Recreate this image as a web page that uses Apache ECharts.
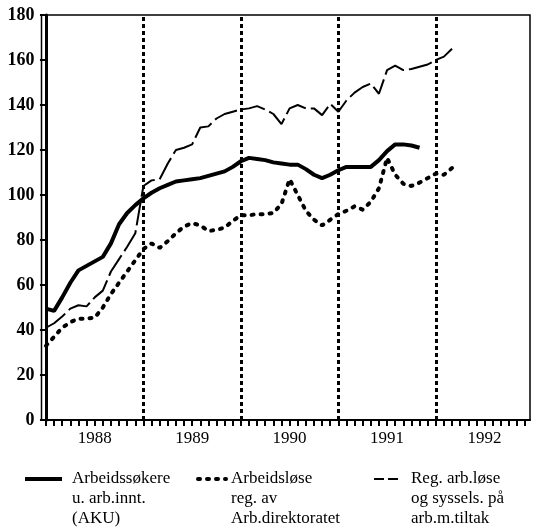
<!DOCTYPE html>
<html>
<head>
<meta charset="utf-8">
<script src="https://cdn.jsdelivr.net/npm/echarts@6/dist/echarts.min.js"></script>
<style>
  html, body { margin: 0; padding: 0; background: #fff; }
  #chart { width: 546px; height: 531px; }
</style>
</head>
<body>
<div id="chart"></div>
<script>
// x = måneder fra januar 1988 (0 = jan 1988)
const years = ['1988', '1989', '1990', '1991', '1992'];
const yearStarts = [0, 12, 24, 36, 48];

// Arbeidssøkere u. arb.innt. (AKU)
const akuValues = [49.5, 48.5, 54.5, 61, 66.5, 68.5, 70.5, 72.5, 78.5, 87, 92, 95.5,
    98.5, 101, 103, 104.5, 106, 106.5, 107, 107.5, 108.5, 109.5, 110.5, 112.5,
    115, 116.5, 116, 115.5, 114.5, 114, 113.5, 113.5, 111.5, 109, 107.5, 109,
    111, 112.5, 112.5, 112.5, 112.5, 115.5, 119.5, 122.5, 122.5, 122, 121];

// Arbeidsløse reg. av Arb.direktoratet
const regValues = [33, 37, 41, 43.5, 45, 45, 45.5, 50, 56, 61, 66, 71,
    76, 78.5, 76.5, 79.5, 83, 86, 87.5, 86.5, 84, 84.5, 85.5, 88.5,
    91, 91, 91.5, 91.5, 92, 96, 107, 100, 93, 89, 86.5, 89,
    91.5, 93, 95, 93.5, 97, 103, 116.5, 109, 105, 104, 105.5, 107.5,
    109.5, 109, 112];

// Reg. arb.løse og syssels. på arb.m.tiltak
const tiltakValues = [41, 43, 46, 49.5, 51, 50.5, 54.5, 57.5, 66, 71.5, 77, 83,
    104, 106.5, 107, 114, 120, 121, 122.5, 130, 130.5, 134, 136, 137,
    138, 138.5, 139.5, 138, 136, 131.5, 138.5, 140, 138.5, 138.5, 135.5, 140.5,
    137, 142, 145.5, 148, 149.5, 145, 155.5, 157.5, 155.5, 156, 157, 158,
    160, 161.5, 165];

const seriesNames = ['Arbeidssøkere', 'Arbeidsløse', 'Reg. arb.løse'];
const legendTexts = [
    'Arbeidssøkere\nu. arb.innt.\n(AKU)',
    'Arbeidsløse\nreg. av\nArb.direktoratet',
    'Reg. arb.løse\nog syssels. på\narb.m.tiltak'
];

function toPairs(values) {
    return values.map((v, i) => [i, v]);
}

let monthTicks = [];
for (let m = 0; m < 60; m++) monthTicks.push(m);

const serif = '"Liberation Serif", "DejaVu Serif", serif';

// én legend per serie, slik at teksten kan gå over tre linjer
function legendFor(i, left, itemWidth, padLeft, lineStyle) {
    return {
        data: [seriesNames[i]],
        left: left,
        top: 429,
        padding: 0,
        z: 1,
        itemWidth: itemWidth,
        itemHeight: 10,
        selectedMode: false,
        formatter: () => '\n\n' + legendTexts[i],
        itemStyle: { color: 'transparent', borderWidth: 0, opacity: 0 },
        lineStyle: lineStyle,
        textStyle: {
            fontFamily: serif,
            fontSize: 17,
            color: '#000',
            lineHeight: 20,
            padding: [0, 0, 0, padLeft]
        }
    };
}

const chart = echarts.init(document.getElementById('chart'), null, { renderer: 'canvas' });

const option = {
    backgroundColor: '#fff',
    animation: false,
    grid: {
        left: 41.5,
        right: 16,
        top: 15,
        bottom: 111,
        show: true,
        borderColor: '#000',
        borderWidth: 1.5,
        backgroundColor: 'transparent'
    },
    legend: [
        legendFor(0, 23, 37, 5, { color: '#000', width: 4, type: 'solid', opacity: 1 }),
        legendFor(1, 196, 28, 0, { color: '#000', width: 4, type: [2, 7], cap: 'round', opacity: 1 }),
        legendFor(2, 373, 27, 5, { color: '#000', width: 2, type: [10, 4, 10, 4, 2, 4], opacity: 1 })
    ],
    xAxis: {
        type: 'value',
        min: -0.55,
        max: 59.6,
        z: 5,
        splitLine: { show: false },
        axisLine: { show: true, lineStyle: { color: '#000', width: 2 } },
        axisTick: {
            show: true,
            customValues: monthTicks,
            inside: false,
            length: 6,
            lineStyle: { color: '#000', width: 2 }
        },
        axisLabel: {
            customValues: yearStarts.map(s => s + 6),
            formatter: v => years[Math.round((v - 6) / 12)],
            fontFamily: serif,
            fontSize: 17,
            color: '#000',
            margin: 10
        }
    },
    yAxis: {
        type: 'value',
        min: 0,
        max: 180,
        interval: 20,
        z: 5,
        splitLine: { show: false },
        axisLine: { show: true, lineStyle: { color: '#000', width: 3 } },
        axisTick: { show: true, length: 6, lineStyle: { color: '#000', width: 2 } },
        axisLabel: {
            fontFamily: serif,
            fontSize: 18,
            fontWeight: 'bold',
            color: '#000',
            margin: 7
        }
    },
    series: [
        {
            name: seriesNames[0],
            type: 'line',
            data: toPairs(akuValues),
            symbol: 'none',
            lineStyle: { color: '#000', width: 4 },
            itemStyle: { color: '#000' },
            z: 3,
            markLine: {
                silent: true,
                symbol: 'none',
                label: { show: false },
                lineStyle: { color: '#000', width: 3, type: [4, 3] },
                data: yearStarts.map(s => ({ xAxis: s }))
            }
        },
        {
            name: seriesNames[1],
            type: 'line',
            data: toPairs(regValues),
            symbol: 'none',
            lineStyle: { color: '#000', width: 4, type: [2, 7], cap: 'round' },
            itemStyle: { color: '#000' },
            z: 3
        },
        {
            name: seriesNames[2],
            type: 'line',
            data: toPairs(tiltakValues),
            symbol: 'none',
            lineStyle: { color: '#000', width: 2, type: [24, 5] },
            itemStyle: { color: '#000' },
            z: 3
        }
    ]
};

chart.setOption(option);
</script>
</body>
</html>
